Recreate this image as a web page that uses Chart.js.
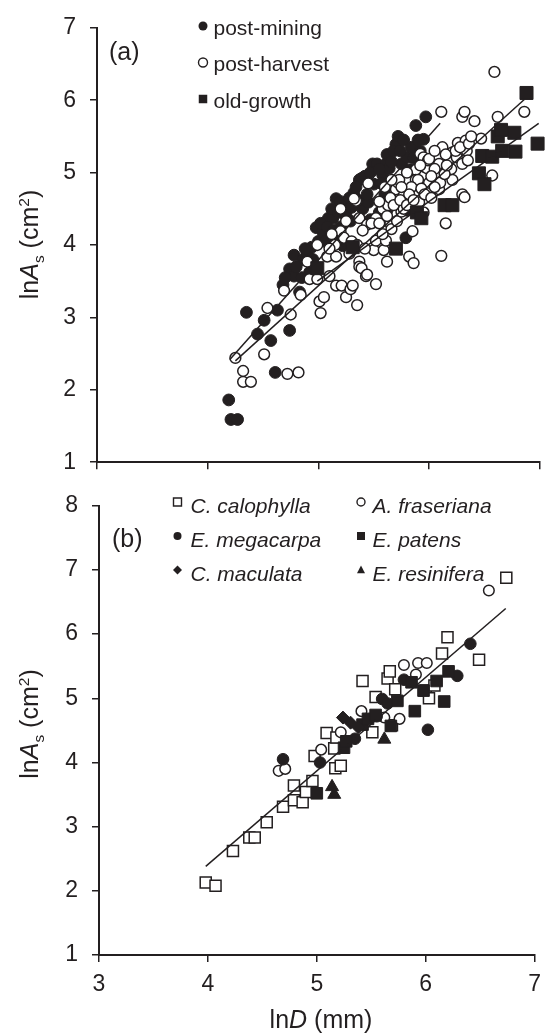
<!DOCTYPE html>
<html><head><meta charset="utf-8">
<script src="https://cdn.jsdelivr.net/npm/chart.js@4/dist/chart.umd.min.js"></script>
<style>
html,body{margin:0;padding:0;background:#fff;}
#wrap{position:relative;width:550px;height:1036px;overflow:hidden;background:#fff;}
canvas{position:absolute;left:0;}
#ca{top:0;}
#cb{top:478px;}
</style></head><body>
<div id="wrap"><canvas id="ca" width="550" height="490"></canvas><canvas id="cb" width="550" height="558"></canvas></div>
<script>
const INK = '#231f20';
const FONT = '"Liberation Sans", Arial, Helvetica, sans-serif';

// ---------- tick values ----------
const xTicks = [3, 4, 5, 6, 7];
const yTicksA = [1, 2, 3, 4, 5, 6, 7];
const yTicksB = [1, 2, 3, 4, 5, 6, 7, 8];

// ---------- panel (a) data: [lnD, lnAs] ----------
const postMining = [
[4.19,1.86],[4.21,1.59],[4.27,1.59],[4.35,3.07],[4.45,2.77],[4.51,2.96],[4.57,2.68],[4.61,2.24],[4.63,3.10],[4.68,3.45],
[4.74,2.82],[4.74,3.67],[4.78,3.86],[4.78,3.57],[4.83,3.35],[4.86,3.80],[4.90,3.88],[4.92,3.62],[4.94,3.97],[4.98,4.24],
[5.00,4.05],[5.04,4.18],[5.09,4.37],[5.10,4.10],[5.13,4.37],[5.16,4.64],[5.18,4.06],[5.22,3.99],[5.23,4.55],[5.27,4.50],
[5.29,4.33],[5.32,4.72],[5.37,4.90],[5.39,4.92],[5.40,4.50],[5.45,4.59],[5.49,5.12],[5.50,4.84],[5.53,5.12],[5.58,4.97],
[5.60,4.70],[5.61,5.12],[5.64,5.06],[5.70,5.39],[5.72,5.50],[5.75,5.12],[5.79,4.10],[5.80,5.21],[5.80,4.48],[5.83,5.04],
[5.88,5.65],[5.95,5.46],[5.97,5.77],
[4.70,3.55],[4.80,3.70],[4.85,3.55],[4.88,3.95],[4.95,3.80],[5.02,4.30],[5.06,4.05],[5.08,4.25],[5.12,4.50],[5.14,4.20],
[5.18,4.45],[5.20,4.60],[5.25,4.40],[5.28,4.65],[5.30,4.52],[5.34,4.80],[5.36,4.62],[5.42,4.95],[5.44,4.70],[5.47,5.00],
[5.55,5.05],[5.57,4.85],[5.62,5.25],[5.66,5.15],[5.68,5.30],[5.74,5.30],[5.77,5.45],[5.84,5.35],[5.86,5.20],[5.90,5.45],
[5.92,5.30],[5.47,4.35],[5.55,4.45],[5.20,4.25],[5.62,4.48]
];
const postHarvest = [
[4.25,2.44],[4.32,2.26],[4.32,2.11],[4.39,2.11],[4.51,2.49],[4.54,3.13],[4.72,2.22],[4.82,2.24],[4.75,3.04],[4.69,3.37],
[4.84,3.31],[4.92,3.53],[4.90,3.77],[4.99,3.53],[4.99,4.00],[5.01,3.22],[5.02,3.06],[5.05,3.28],[5.08,3.84],[5.10,3.57],
[5.16,3.84],[5.16,3.44],[5.20,4.19],[5.23,4.10],[5.25,4.33],[5.21,3.44],[5.25,3.28],[5.29,3.39],[5.31,3.44],[5.35,3.17],
[5.34,4.61],[5.37,4.37],[5.37,3.77],[5.37,3.70],[5.39,3.68],[5.43,3.57],[5.44,4.28],[5.44,3.59],[5.50,3.93],[5.52,3.46],
[5.52,4.37],[5.52,4.06],[5.58,4.50],[5.59,3.93],[5.61,4.06],[5.62,3.77],[5.63,4.55],[5.65,4.30],[5.66,4.22],[5.69,4.73],
[5.70,4.77],[5.71,4.33],[5.72,4.86],[5.73,4.90],[5.75,4.46],[5.77,4.68],[5.77,4.50],[5.82,3.84],[5.85,4.19],[5.86,3.75],
[5.88,5.04],[5.88,4.90],[5.90,4.90],[5.91,4.59],[5.92,5.26],[5.95,5.21],[5.96,5.08],[5.98,5.06],[5.99,5.17],[6.00,5.19],
[6.00,4.86],[6.09,5.12],[6.09,4.95],[6.09,4.77],[6.10,4.86],[6.11,3.85],[6.11,5.84],[6.12,5.35],[6.15,4.30],[6.18,5.19],
[6.21,5.28],[6.21,4.90],[6.25,5.21],[6.26,5.41],[6.30,5.12],[6.30,4.70],[6.30,5.77],[6.32,5.84],[6.32,4.66],[6.33,5.44],
[6.34,5.30],[6.35,5.17],[6.41,5.71],[6.47,5.47],[6.57,4.96],[6.59,6.39],[6.62,5.77],[6.86,5.84],[5.32,4.64],[5.45,4.85],
[5.55,4.60],[5.60,4.80],[5.80,5.00],[5.65,4.65],[5.84,4.80],[6.05,5.05],[6.20,5.05],[5.20,4.50],[5.15,4.00],
[5.40,4.20],[5.48,4.30],[5.55,4.30],[5.58,4.15],[5.62,4.40],[5.68,4.55],[5.74,4.62],[5.80,4.55],[5.82,4.70],[5.86,4.62],
[5.93,4.78],[5.96,4.70],[6.02,4.95],[6.05,4.80],[6.14,4.98],[6.16,5.10],[6.24,5.30],[6.28,5.35],[6.36,5.40],[6.38,5.50],
[5.30,4.05],[5.35,4.00],[5.42,3.95],[5.28,3.88],[5.10,3.95],[5.12,4.15],[5.95,4.45],[6.02,4.65],[5.75,4.80],[5.66,4.90],
[5.92,5.10],[6.05,5.30],[6.15,5.25]
];
const oldGrowth = [
[4.99,3.68],[5.31,3.97],[5.70,3.95],[5.89,4.45],[5.93,4.37],[6.14,4.55],[6.21,4.55],[6.45,4.99],[6.50,4.84],[6.48,5.23],
[6.57,5.22],[6.62,5.50],[6.65,5.59],[6.66,5.30],[6.77,5.55],[6.78,5.29],[6.88,6.10],[6.98,5.40]
];
// fitted lines (end points)
const lineMining = [[4.20,2.42],[6.10,5.68]];
const lineHarvest = [[4.25,2.40],[6.86,6.01]];
const lineOld = [[4.99,3.50],[6.99,5.68]];

// ---------- panel (b) data ----------
const calophylla = [
[3.98,2.13],[4.07,2.08],[4.23,2.62],[4.38,2.83],[4.43,2.83],[4.54,3.07],[4.69,3.31],[4.79,3.64],[4.79,3.41],[4.87,3.38],
[4.90,3.54],[4.96,3.71],[4.98,4.10],[5.09,4.46],[5.16,4.22],[5.17,3.91],[5.22,3.95],[5.18,4.39],[5.42,5.27],[5.51,4.47],
[5.54,5.02],[5.65,5.31],[5.67,5.42],[5.69,4.58],[5.72,5.14],[6.00,5.12],[6.03,5.00],[6.08,5.20],[6.15,5.70],[6.20,5.95],
[6.49,5.60],[6.74,6.88]
];
const fraseriana = [[4.65,3.87],[4.71,3.90],[5.04,4.20],[5.22,4.47],[5.41,4.80],[5.62,4.70],[5.76,4.68],[5.80,5.52],[5.91,5.37],[5.93,5.55],[6.01,5.55],[6.58,6.68]];
const megacarpa = [[4.69,4.05],[5.03,4.00],[5.35,4.37],[5.55,4.72],[5.60,4.99],[5.65,4.92],[5.80,5.29],[6.02,4.51],[6.29,5.35],[6.41,5.85]];
const patens = [[5.00,3.52],[5.25,4.23],[5.27,4.33],[5.42,4.59],[5.47,4.68],[5.54,4.74],[5.68,4.57],[5.74,4.96],[5.90,4.80],[5.87,5.25],[5.98,5.12],[6.10,5.27],[6.17,4.95],[6.21,5.42]];
const maculata = [[5.24,4.70],[5.31,4.62],[5.38,4.55]];
const resinifera = [[5.14,3.62],[5.16,3.50],[5.62,4.36]];
const lineB = [[3.98,2.38],[6.735,6.40]];

// ---------- helpers ----------
const pts = a => a.map(p => ({x: p[0], y: p[1]}));
function scatterSet(data, style, r, filled, order) {
  return {
    type: 'scatter', data: pts(data), order: order, clip: false,
    pointStyle: style, pointRadius: r, pointHoverRadius: r,
    pointBackgroundColor: filled ? INK : '#ffffff',
    pointBorderColor: INK, pointBorderWidth: filled ? 1 : 1.5
  };
}
function lineSet(data) {
  return { type: 'line', data: pts(data), order: 0, clip: false, showLine: true,
    borderColor: INK, borderWidth: 1.5, pointRadius: 0, fill: false, tension: 0 };
}
function xScale(showLabels, h) {
  return {
    type: 'linear', position: 'bottom', min: 3, max: 7,
    afterBuildTicks: s => { s.ticks = xTicks.map(v => ({value: v})); },
    ticks: { display: showLabels, color: INK, font: {family: FONT, size: 23}, padding: 9, maxRotation: 0, autoSkip: false },
    grid: { display: true, drawOnChartArea: false, drawTicks: true, tickLength: 7, color: INK, lineWidth: 1.5 },
    border: { display: true, color: INK, width: 2 },
    afterFit: s => { s.height = h; }
  };
}
function yScale(vals, w) {
  return {
    type: 'linear', position: 'left', min: vals[0], max: vals[vals.length - 1],
    afterBuildTicks: s => { s.ticks = vals.map(v => ({value: v})); },
    ticks: { color: INK, font: {family: FONT, size: 23}, padding: 14, autoSkip: false },
    grid: { display: true, drawOnChartArea: false, drawTicks: true, tickLength: 7, color: INK, lineWidth: 1.5 },
    border: { display: true, color: INK, width: 2 },
    afterFit: s => { s.width = w; }
  };
}
function rich(ctx, parts, x, y, rot, size) {
  ctx.save();
  ctx.translate(x, y); ctx.rotate(rot);
  ctx.textBaseline = 'alphabetic'; ctx.textAlign = 'left'; ctx.fillStyle = INK;
  let w = 0;
  const items = parts.map(p => {
    const sz = p.s ? size * 0.62 : size;
    const font = (p.i ? 'italic ' : '') + sz + 'px ' + FONT;
    ctx.font = font;
    const mw = ctx.measureText(p.t).width;
    w += mw;
    return {p, font, mw};
  });
  let cx = -w / 2;
  items.forEach(it => {
    ctx.font = it.font;
    const dy = it.p.s === 'sub' ? size * 0.24 : (it.p.s === 'sup' ? -size * 0.38 : 0);
    ctx.fillText(it.p.t, cx, dy);
    cx += it.mw;
  });
  ctx.restore();
}
function text(ctx, t, x, y, size, italic) {
  ctx.save();
  ctx.font = (italic ? 'italic ' : '') + size + 'px ' + FONT;
  ctx.fillStyle = INK; ctx.textBaseline = 'alphabetic'; ctx.textAlign = 'left';
  ctx.fillText(t, x, y);
  ctx.restore();
}
function marker(ctx, style, x, y, size, filled) {
  ctx.save();
  ctx.beginPath();
  if (style === 'circle') ctx.arc(x, y, size / 2, 0, Math.PI * 2);
  else if (style === 'rect') ctx.rect(x - size / 2, y - size / 2, size, size);
  else if (style === 'diamond') { ctx.moveTo(x, y - size / 2); ctx.lineTo(x + size / 2, y); ctx.lineTo(x, y + size / 2); ctx.lineTo(x - size / 2, y); ctx.closePath(); }
  else if (style === 'triangle') { ctx.moveTo(x, y - size * 0.55); ctx.lineTo(x + size / 2, y + size * 0.4); ctx.lineTo(x - size / 2, y + size * 0.4); ctx.closePath(); }
  if (filled) { ctx.fillStyle = INK; ctx.fill(); }
  else { ctx.fillStyle = '#fff'; ctx.fill(); ctx.lineWidth = 1.4; ctx.strokeStyle = INK; ctx.stroke(); }
  ctx.restore();
}
const yTitle = [{t: 'ln'}, {t: 'A', i: true}, {t: 's', s: 'sub'}, {t: ' (cm'}, {t: '2', s: 'sup'}, {t: ')'}];
const xTitle = [{t: 'ln'}, {t: 'D', i: true}, {t: ' (mm)'}];

// ---------- panel (a) ----------
new Chart(document.getElementById('ca'), {
  type: 'scatter',
  data: { datasets: [
    lineSet(lineMining), lineSet(lineHarvest), lineSet(lineOld),
    scatterSet(oldGrowth, 'rect', 9.2, true, 1),
    scatterSet(postHarvest, 'circle', 5.4, false, 2),
    scatterSet(postMining, 'circle', 5.9, true, 3)
  ]},
  options: {
    responsive: false, animation: false, devicePixelRatio: 1,
    layout: { padding: {top: 19, right: 9, left: 0, bottom: 0} },
    plugins: { legend: {display: false}, tooltip: {enabled: false} },
    scales: { x: xScale(false, 20), y: yScale(yTicksA, 97) }
  },
  plugins: [{ id: 'textsA', afterDraw(chart) {
    const ctx = chart.ctx;
    rich(ctx, yTitle, 38, 244.5, -Math.PI / 2, 25);
    text(ctx, '(a)', 109, 60, 25);
    const lg = [['post-mining', 'circle', true, 34.5], ['post-harvest', 'circle', false, 71], ['old-growth', 'rect', true, 107.5]];
    lg.forEach(r => { marker(ctx, r[1], 203, r[3] - 8.5, r[1] === 'rect' ? 8.5 : 9, r[2]); text(ctx, r[0], 213.5, r[3], 21); });
  }}]
});

// ---------- panel (b) ----------
new Chart(document.getElementById('cb'), {
  type: 'scatter',
  data: { datasets: [
    lineSet(lineB),
    scatterSet(resinifera, 'triangle', 7.5, true, 1),
    scatterSet(maculata, 'rectRot', 6.5, true, 2),
    scatterSet(patens, 'rect', 8.2, true, 3),
    scatterSet(megacarpa, 'circle', 5.8, true, 4),
    scatterSet(fraseriana, 'circle', 5.3, false, 5),
    scatterSet(calophylla, 'rect', 7.8, false, 6)
  ]},
  options: {
    responsive: false, animation: false, devicePixelRatio: 1,
    layout: { padding: {top: 15, right: 7, left: 0, bottom: 0} },
    plugins: { legend: {display: false}, tooltip: {enabled: false} },
    scales: { x: xScale(true, 81), y: yScale(yTicksB, 99) }
  },
  plugins: [{ id: 'textsB', afterDraw(chart) {
    const ctx = chart.ctx;
    rich(ctx, yTitle, 38, 246, -Math.PI / 2, 25);
    rich(ctx, xTitle, 321, 550, 0, 25);
    text(ctx, '(b)', 112, 68.5, 25);
    const rows = [34.5, 68.5, 102.5];
    const lg = [
      ['C. calophylla', 'rect', false, 0, 0], ['A. fraseriana', 'circle', false, 1, 0],
      ['E. megacarpa', 'circle', true, 0, 1], ['E. patens', 'rect', true, 1, 1],
      ['C. maculata', 'diamond', true, 0, 2], ['E. resinifera', 'triangle', true, 1, 2]
    ];
    lg.forEach(r => {
      const mx = r[3] === 0 ? 177.5 : 361, tx = r[3] === 0 ? 190.5 : 372.5;
      const by = rows[r[4]];
      marker(ctx, r[1], mx, by - 10.5, r[1] === 'diamond' ? 9 : 8, r[2]);
      text(ctx, r[0], tx, by, 21, true);
    });
  }}]
});
</script>
</body></html>
